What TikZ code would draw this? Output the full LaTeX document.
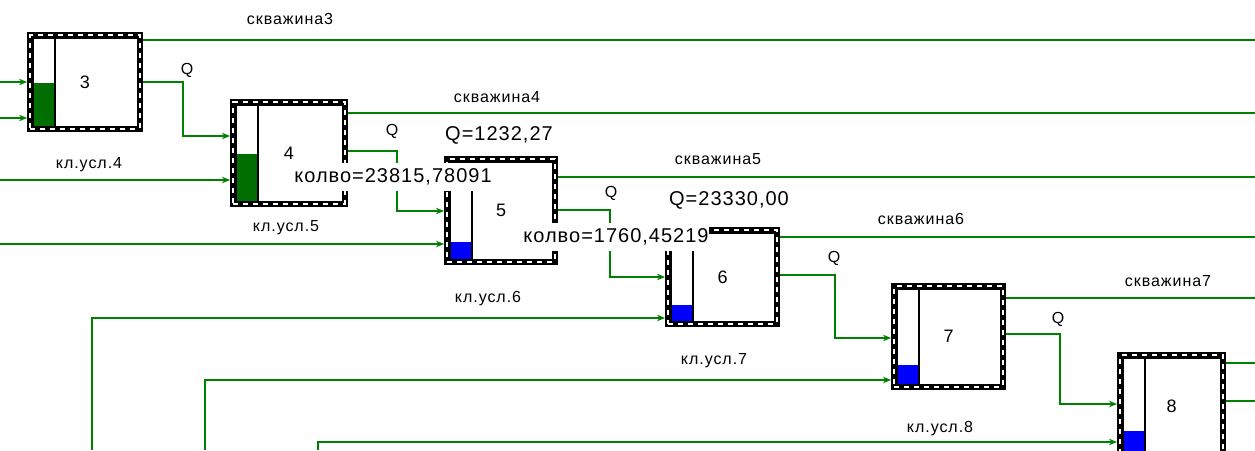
\documentclass[tikz,border=0pt]{standalone}
\usepackage{fontspec}
\setmainfont{Liberation Sans}
\newfontfamily\labf[LetterSpace=6]{Liberation Sans}
\newfontfamily\bigf[LetterSpace=5]{Liberation Sans}
\usetikzlibrary{arrows.meta}
\definecolor{lg}{RGB}{0,128,0}
\definecolor{dg}{RGB}{0,110,0}
\definecolor{lvlblue}{RGB}{0,0,255}
\newcommand\tankbox[8]{%
  \fill[#8] (#2+6,#7) rectangle (#2+28,#5-6);
  \draw[barline] (#2+28,#3+6) -- (#2+28,#5-6);
  \node[tank, minimum width=#4-#2-6.5, minimum height=#5-#3-6.5] (#1) at ({(#2+#4)/2},{(#3+#5)/2}) {#6};
}
\begin{document}
\begin{tikzpicture}[x=1pt,y=-1pt,
  tank/.style={draw=black, line width=6.5pt, outer sep=3.25pt, inner sep=0pt,
    font=\labf\fontsize{18}{21}\selectfont,
    postaction={draw=white, line width=1.8pt, dash pattern=on 5pt off 5pt}},
  barline/.style={draw=black, line width=1.4pt},
  conn/.style={draw=lg, line width=2pt},
  arr/.style={conn, -{Stealth[length=8pt,width=6.5pt]}},
  lbl/.style={font=\labf\fontsize{16}{19}\selectfont, text=black, inner sep=1pt},
  vlbl/.style={font=\bigf\fontsize{20}{24}\selectfont, text=black, inner sep=1pt},
  klbl/.style={font=\bigf\fontsize{20}{24}\selectfont, text=black, fill=white, inner sep=0pt, minimum height=28pt}
]
\useasboundingbox (0,0) rectangle (1255,450);
\clip (0,0) rectangle (1255,450);
\fill[white] (0,0) rectangle (1255,450);

% tanks
\tankbox{b3}{27}{32}{143}{132}{3}{83}{dg}
\tankbox{b4}{230}{99}{348}{207}{4}{154}{dg}
\tankbox{b5}{444}{156}{558}{265}{5}{242}{lvlblue}
\tankbox{b6}{665}{227}{780}{327}{6}{305}{lvlblue}
\tankbox{b7}{891}{283}{1006}{390}{7}{365}{lvlblue}
\tankbox{b8}{1117}{352}{1226}{460}{8}{431}{lvlblue}

% free ends
\coordinate (i3a) at (0,82);
\coordinate (i3b) at (0,118);
\coordinate (i4) at (0,180);
\coordinate (i5) at (0,244);
\coordinate (i6) at (92,450);
\coordinate (i7) at (205,450);
\coordinate (i8) at (318,450);
\coordinate (o3) at (1255,40);
\coordinate (o4) at (1255,113);
\coordinate (o5) at (1255,177);
\coordinate (o6) at (1255,237);
\coordinate (o7) at (1255,298);
\coordinate (o8a) at (1255,363);
\coordinate (o8b) at (1255,401);

% outputs "skvazhina"
\draw[conn] (b3.east |- o3) -- (o3);
\draw[conn] (b4.east |- o4) -- (o4);
\draw[conn] (b5.east |- o5) -- (o5);
\draw[conn] (b6.east |- o6) -- (o6);
\draw[conn] (b7.east |- o7) -- (o7);
\draw[conn] (b8.east |- o8a) -- (o8a);
\draw[conn] (b8.east |- o8b) -- (o8b);

% Q links
\draw[arr] (b3.east |- 0,82) -| (183,136) -- (b4.west |- 0,136);
\draw[arr] (b4.east |- 0,151) -| (397,211) -- (b5.west |- 0,211);
\draw[arr] (b5.east |- 0,210) -| (610,277) -- (b6.west |- 0,277);
\draw[arr] (b6.east |- 0,275) -| (835,338) -- (b7.west |- 0,338);
\draw[arr] (b7.east |- 0,334) -| (1060,404) -- (b8.west |- 0,404);

% inputs
\draw[arr] (i3a) -- (b3.west |- i3a);
\draw[arr] (i3b) -- (b3.west |- i3b);
\draw[arr] (i4) -- (b4.west |- i4);
\draw[arr] (i5) -- (b5.west |- i5);
\draw[arr] (i6) |- (b6.west |- 0,318);
\draw[arr] (i7) |- (b7.west |- 0,380);
\draw[arr] (i8) |- (b8.west |- 0,442);

% labels
\node[lbl] (s3) at (290,19) {скважина3};
\node[lbl] (s4) at (497,97) {скважина4};
\node[lbl] (s5) at (718,159) {скважина5};
\node[lbl] (s6) at (921,219) {скважина6};
\node[lbl] (s7) at (1168,281) {скважина7};
\node[lbl] (q3) at (187,70) {Q};
\node[lbl] (q4) at (392,131) {Q};
\node[lbl] (q5) at (611,193) {Q};
\node[lbl] (q6) at (834,258) {Q};
\node[lbl] (q7) at (1058,319) {Q};
\node[lbl] (k4) at (89,165) {кл.усл.4};
\node[lbl] (k5) at (286,228) {кл.усл.5};
\node[lbl] (k6) at (488,299) {кл.усл.6};
\node[lbl] (k7) at (714,361) {кл.усл.7};
\node[lbl] (k8) at (940,429) {кл.усл.8};
\node[vlbl] (v5) at (499,135) {Q=1232,27};
\node[vlbl] (v6) at (729,200) {Q=23330,00};
\node[klbl] (c4) at (393,177) {колво=23815,78091};
\node[klbl] (c5) at (616,237) {колво=1760,45219};
\end{tikzpicture}
\end{document}
